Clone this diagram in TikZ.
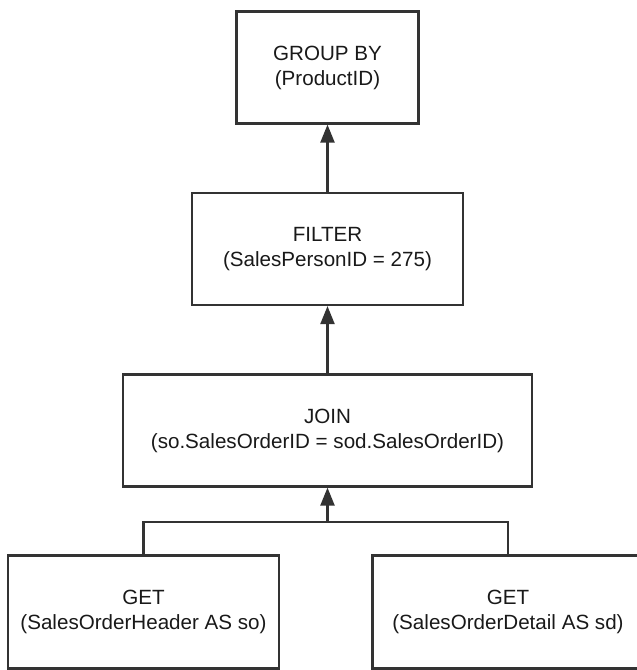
\documentclass[tikz,border=0pt]{standalone}
\usepackage{fontspec}
\setmainfont{Liberation Sans}
\usepackage{tikz}
\usetikzlibrary{arrows.meta}
\tikzstyle{op} = [draw=black!80, line width=2.2pt, text=black!90, align=center, inner sep=0pt, minimum height=112pt, font=\fontsize{20.6}{25}\selectfont]
\tikzstyle{link} = [draw=black!80, line width=2.2pt]
\tikzstyle{up} = [link, -{Triangle[length=18pt,width=14pt]}]

\begin{document}
\begin{tikzpicture}[x=1pt,y=-1pt,node distance=181.5pt]
\useasboundingbox (0,0) rectangle (637,670);

\node[op, minimum width=409pt] (join) at (327.5,430.5) {JOIN\\(so.SalesOrderID = sod.SalesOrderID)};
\node[op, minimum width=271pt] (filter) [above of = join] {FILTER\\(SalesPersonID = 275)};
\node[op, minimum width=182pt] (group) [above of = filter] {GROUP BY\\(ProductID)};

\node[op, minimum width=271pt, minimum height=113pt] (getso) [below of = join, xshift=-184pt] {GET\\(SalesOrderHeader AS so)};
\node[op, minimum width=271pt, minimum height=113pt] (getsd) [below of = join, xshift=180.5pt] {GET\\(SalesOrderDetail AS sd)};

\coordinate (fork) at ([yshift=-34pt]join.south);

  \draw[link] (getso.north) |- (fork);
  \draw[link] (getsd.north) |- (fork);

  \draw[up] (fork) -- (join.south);
  \draw[up] (join.north) -- (filter.south);
  \draw[up] (filter.north) -- (group.south);

\end{tikzpicture}
\end{document}
